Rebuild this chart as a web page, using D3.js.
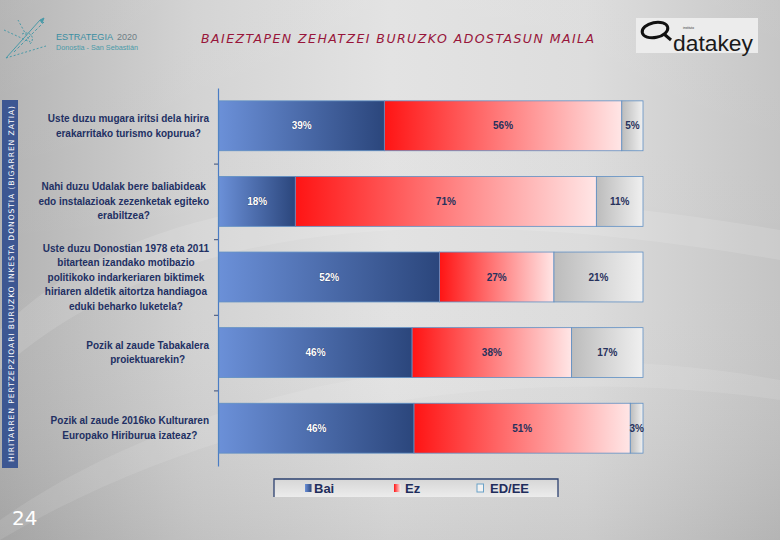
<!DOCTYPE html>
<html><head><meta charset="utf-8">
<script src="https://cdn.jsdelivr.net/npm/d3@7"></script>
<style>html,body{margin:0;padding:0;background:#d0d0d0;}svg{display:block;}</style>
</head><body>
<script>
const questions = [
  ["Uste duzu mugara iritsi dela hirira", "erakarritako turismo kopurua?"],
  ["Nahi duzu Udalak bere baliabideak", "edo instalazioak zezenketak egiteko", "erabiltzea?"],
  ["Uste duzu Donostian 1978 eta 2011", "bitartean izandako motibazio", "politikoko indarkeriaren biktimek", "hiriaren aldetik aitortza handiagoa", "eduki beharko luketela?"],
  ["Pozik al zaude Tabakalera", "proiektuarekin?"],
  ["Pozik al zaude 2016ko Kulturaren", "Europako Hiriburua izateaz?"]
];
const seriesNames = ["Bai", "Ez", "ED/EE"];
const bai  = [39, 18, 52, 46, 46];
const ez   = [56, 71, 27, 38, 51];
const edee = [5, 11, 21, 17, 3];
const title = "BAIEZTAPEN ZEHATZEI BURUZKO ADOSTASUN MAILA";
const sideText = "HIRITARREN PERTZEPZIOARI BURUZKO INKESTA DONOSTIA (BIGARREN ZATIA)";
const pageNum = "24";

const W = 780, H = 540;
const svg = d3.select("body").append("svg").attr("width", W).attr("height", H);
const defs = svg.append("defs");

// background gradients
const bg = defs.append("linearGradient").attr("id","bg").attr("x1","0").attr("x2","1").attr("y1","0").attr("y2","0");
[[0,"#b2b2b2"],[0.25,"#d2d2d2"],[0.5,"#e2e2e2"],[0.75,"#dcdcdc"],[1,"#c4c4c4"]].forEach(([o,c])=>bg.append("stop").attr("offset",o).attr("stop-color",c));
const bgv = defs.append("linearGradient").attr("id","bgv").attr("x1","0").attr("x2","0").attr("y1","0").attr("y2","1");
[[0,"#ffffff",0.05],[0.5,"#ffffff",0],[1,"#000000",0.08]].forEach(([o,c,a])=>bgv.append("stop").attr("offset",o).attr("stop-color",c).attr("stop-opacity",a));
svg.append("rect").attr("width",W).attr("height",H).attr("fill","url(#bg)");
svg.append("rect").attr("width",W).attr("height",H).attr("fill","url(#bgv)");
// soft swooshes
svg.append("path").attr("d","M0,330 C150,180 420,170 780,230 L780,260 C430,200 170,220 0,370 Z").attr("fill","#ffffff").attr("opacity",0.12);
svg.append("path").attr("d","M0,520 C200,380 500,330 780,380 L780,400 C500,360 220,410 0,540 Z").attr("fill","#ffffff").attr("opacity",0.10);

// segment gradients
function grad(id, c1, c2){
  const g = defs.append("linearGradient").attr("id",id).attr("x1","0").attr("x2","1").attr("y1","0").attr("y2","0");
  g.append("stop").attr("offset",0).attr("stop-color",c1);
  g.append("stop").attr("offset",1).attr("stop-color",c2);
}
grad("gBai","#6b90d8","#2b467c");
grad("gEz","#ff1414","#ffe6e6");
grad("gEd","#bcbcbc","#f0f0f0");
const fills = ["url(#gBai)","url(#gEz)","url(#gEd)"];

// side strip
svg.append("rect").attr("x",2).attr("y",100).attr("width",16).attr("height",368).attr("fill","#3d5792");
svg.append("text").attr("transform","translate(13.5,284) rotate(-90)")
  .attr("text-anchor","middle").attr("font-family","DejaVu Sans, sans-serif").attr("font-size",7.6)
  .attr("fill","#ffffff").attr("textLength",356).attr("lengthAdjust","spacing").text(sideText);

// page number
svg.append("text").attr("x",12).attr("y",525).attr("font-family","DejaVu Sans, sans-serif")
  .attr("font-size",20).attr("fill","#ffffff").text(pageNum);

// title
svg.append("text").attr("x",201).attr("y",43).attr("font-family","DejaVu Sans, sans-serif")
  .attr("font-style","italic").attr("font-size",12.5).attr("fill","#98153a")
  .attr("textLength",393).attr("lengthAdjust","spacing").text(title);

// Estrategia logo
const lg = svg.append("g").attr("stroke","#4a9aa8").attr("fill","none").attr("stroke-width",1);
lg.append("path").attr("d","M6,58 L40,20");
lg.append("path").attr("d","M6,58 L46,46").attr("stroke-dasharray","2,2");
lg.append("path").attr("d","M4,30 L30,42 L18,20").attr("stroke-dasharray","2,2");
lg.append("path").attr("d","M14,52 L44,22").attr("stroke-dasharray","3,2");
lg.append("path").attr("d","M22,34 C30,30 36,38 30,44").attr("stroke-dasharray","2,1.5");
lg.append("path").attr("d","M40,20 L44,18 L42,23 Z").attr("fill","#4a9aa8");
svg.append("text").attr("x",56).attr("y",40).attr("font-family","Liberation Sans, Arial, sans-serif")
  .attr("font-size",9.4).attr("fill","#3b8ea2").attr("textLength",57).attr("lengthAdjust","spacingAndGlyphs")
  .text("ESTRATEGIA");
svg.append("text").attr("x",117).attr("y",40).attr("font-family","Liberation Sans, Arial, sans-serif")
  .attr("font-size",9.4).attr("fill","#6f7e86").attr("textLength",20).attr("lengthAdjust","spacingAndGlyphs")
  .text("2020");
svg.append("text").attr("x",56).attr("y",49.5).attr("font-family","Liberation Sans, Arial, sans-serif")
  .attr("font-size",7).attr("fill","#4a9aa8").attr("textLength",82).attr("lengthAdjust","spacingAndGlyphs")
  .text("Donostia - San Sebastián");

// datakey logo
svg.append("rect").attr("x",636).attr("y",18).attr("width",122).attr("height",35).attr("fill","#ececec");
svg.append("ellipse").attr("cx",655).attr("cy",30).attr("rx",13).attr("ry",7.5)
  .attr("transform","rotate(-12,655,30)").attr("fill","none").attr("stroke","#111").attr("stroke-width",3);
svg.append("path").attr("d","M664,34 L671,40").attr("stroke","#111").attr("stroke-width",3).attr("fill","none");
svg.append("text").attr("x",673).attr("y",50.5).attr("font-family","Liberation Sans, Arial, sans-serif")
  .attr("font-size",22).attr("fill","#1a1a1a").attr("textLength",80).attr("lengthAdjust","spacingAndGlyphs").text("datakey");
svg.append("text").attr("x",683).attr("y",28.5).attr("font-family","Liberation Sans, Arial, sans-serif")
  .attr("font-size",3.2).attr("fill","#333").text("instituto");

// scales
const idx = d3.range(questions.length);
const y = d3.scaleBand().domain(idx).range([88,466]).paddingInner(0.34).paddingOuter(0.17);
const x = d3.scaleLinear().domain([0,1]).range([219,643]);
const tbl = idx.map(i => ({i, Bai: bai[i], Ez: ez[i], "ED/EE": edee[i]}));
const stack = d3.stack().keys(seriesNames).offset(d3.stackOffsetExpand)(tbl);

// axis
const yAxisScale = d3.scaleLinear().domain([0,questions.length]).range([88,466]);
const ax = svg.append("g").attr("transform","translate(218,0)")
  .call(d3.axisLeft(yAxisScale).tickValues(d3.range(1,questions.length)).tickFormat("").tickSize(4).tickSizeOuter(0));
ax.select(".domain").attr("stroke","#4a7cc4").attr("stroke-width",1.2);
ax.selectAll(".tick line").attr("stroke","#3a4d78");

// bars
stack.forEach((s, k) => {
  const g = svg.append("g");
  g.selectAll("rect").data(s).enter().append("rect")
    .attr("x", d => x(d[0])).attr("y", d => y(d.data.i))
    .attr("width", d => x(d[1]) - x(d[0])).attr("height", y.bandwidth())
    .attr("fill", fills[k]).attr("stroke","#5f8fc4").attr("stroke-width",0.8);
  g.selectAll("text").data(s).enter().append("text")
    .attr("x", d => (x(d[0]) + x(d[1]))/2).attr("y", d => y(d.data.i) + y.bandwidth()/2 + 3.5)
    .attr("text-anchor","middle").attr("font-family","Liberation Sans, Arial, sans-serif")
    .attr("font-weight","bold").attr("font-size",10)
    .attr("fill", k === 0 ? "#ffffff" : "#27315c")
    .attr("style", k === 0 ? "paint-order:stroke" : null)
    .attr("stroke", k === 0 ? "#2a3a66" : null).attr("stroke-width", k===0 ? 0.6 : 0)
    .text(d => d.data[seriesNames[k]] + "%");
});

// category labels
const lineH = 14.5;
idx.forEach(i => {
  const lines = questions[i];
  const g = svg.append("g");
  const cy = y(i) + y.bandwidth()/2;
  const y0 = cy - (lines.length-1)*lineH/2 + 3.5;
  const ts = lines.map((l, j) => g.append("text").attr("y", y0 + j*lineH)
    .attr("font-family","Liberation Sans, Arial, sans-serif").attr("font-weight","bold")
    .attr("font-size",10).attr("fill","#223063").attr("text-anchor","middle").text(l));
  const maxW = d3.max(ts, t => t.node().getComputedTextLength());
  ts.forEach(t => t.attr("x", 209 - maxW/2));
});

// legend
const lgd = defs.append("linearGradient").attr("id","lgBg").attr("x1","0").attr("x2","0").attr("y1","0").attr("y2","1");
lgd.append("stop").attr("offset",0).attr("stop-color","#d6d6d6");
lgd.append("stop").attr("offset",1).attr("stop-color","#ececec");
svg.append("rect").attr("x",274).attr("y",479).attr("width",284).attr("height",18).attr("fill","url(#lgBg)");
svg.append("path").attr("d","M274,497 V479 H558 V497").attr("fill","none").attr("stroke","#2d4170").attr("stroke-width",1.3);
const legItems = [{sx:305, tx:314}, {sx:394, tx:405}, {sx:477, tx:490}];
seriesNames.forEach((n, k) => {
  svg.append("rect").attr("x",legItems[k].sx).attr("y",484).attr("width",6.5).attr("height",8)
    .attr("fill", k===2 ? "#f2f2f2" : fills[k]).attr("stroke", k===2 ? "#6aa2c8" : "none");
  svg.append("text").attr("x",legItems[k].tx).attr("y",493).attr("font-family","Liberation Sans, Arial, sans-serif")
    .attr("font-weight","bold").attr("font-size",13).attr("fill","#1f2d5c").text(n);
});
</script>
</body></html>
